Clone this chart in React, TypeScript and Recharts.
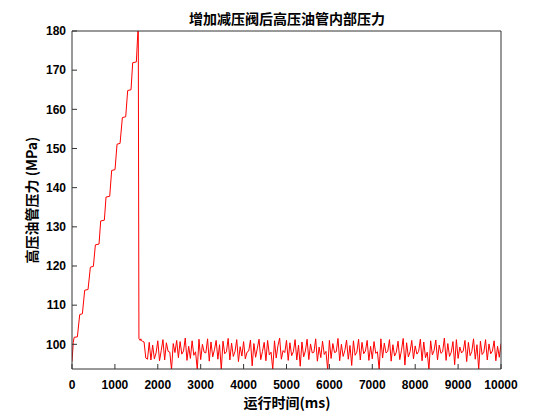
import React from "react";
import { LineChart, Line, XAxis, YAxis } from "recharts";

const chartTitle = "增加减压阀后高压油管内部压力";
const xLabel = "运行时间(ms)";
const yLabel = "高压油管压力 (MPa)";

const xTicks = [0, 1000, 2000, 3000, 4000, 5000, 6000, 7000, 8000, 9000, 10000];
const yTicks = [100, 110, 120, 130, 140, 150, 160, 170, 180];

// Ramp-up phase (time in ms, pressure in MPa)
const rampTime = [0, 30, 50, 125, 180, 242, 296, 374, 428, 498, 545, 630, 669, 754, 793, 879, 925, 1003, 1050, 1120, 1174, 1252, 1298, 1376, 1415, 1500, 1545, 1560, 1590, 1605, 1620];
const rampPressure = [95.6, 100.5, 101.8, 101.9, 107.6, 107.8, 113.8, 114.0, 119.7, 119.9, 125.4, 125.6, 131.5, 131.7, 137.6, 137.8, 144.4, 144.6, 151.1, 151.3, 157.9, 158.1, 164.8, 165.0, 171.9, 172.1, 182, 101.5, 101.0, 101.4, 100.9];

// Steady phase after the valve opens, sampled every 40 ms from 1640 ms
const steadyStart = 1640;
const steadyStep = 40;
const steadyPressure = [
  100.8, 100.6, 96.5, 96.2, 100.5, 96.0, 99.8, 96.3, 97.8, 100.9,
  95.8, 98.4, 101.2, 96.0, 100.4, 98.2, 98.0, 93.5, 100.2, 97.9,
  101.0, 96.6, 100.7, 97.5, 98.3, 101.6, 95.9, 99.5, 96.4, 100.9,
  97.2, 98.1, 93.6, 101.3, 96.1, 100.0, 98.0, 97.8, 101.4, 95.7,
  100.6, 96.8, 98.6, 101.0, 96.2, 99.9, 93.5, 100.8, 97.6, 98.1,
  101.5, 96.0, 100.3, 96.9, 98.2, 101.2, 95.6, 99.4, 97.0, 100.7,
  96.3, 98.0, 98.3, 101.1, 94.5, 100.2, 96.7, 99.0, 101.3, 96.1,
  98.2, 100.5, 95.8, 101.0, 97.3, 98.0, 93.6, 100.9, 96.5, 99.6,
  101.6, 96.2, 98.4, 97.9, 101.0, 95.9, 100.4, 97.1, 98.1, 101.2,
  96.0, 99.8, 94.4, 100.6, 96.8, 98.3, 101.3, 96.1, 100.1, 97.8,
  98.0, 101.4, 95.7, 99.3, 96.6, 100.8, 97.4, 98.2, 93.5, 101.0,
  96.4, 100.2, 97.9, 98.1, 101.5, 95.8, 100.0, 96.9, 98.4, 101.1,
  96.2, 99.7, 94.6, 100.9, 97.2, 98.0, 101.3, 96.0, 100.5, 97.6,
  98.3, 101.0, 95.9, 99.5, 96.3, 100.7, 97.7, 98.1, 93.6, 101.4,
  96.5, 100.3, 97.8, 98.2, 101.2, 95.7, 99.9, 97.0, 98.0, 100.8,
  96.1, 98.5, 101.5, 94.7, 100.4, 96.8, 98.1, 101.0, 96.3, 99.6,
  97.5, 98.2, 101.3, 95.8, 100.6, 96.6, 98.0, 93.5, 100.9, 97.3,
  98.4, 101.1, 96.0, 99.8, 97.7, 98.1, 101.6, 95.9, 100.2, 96.9,
  98.0, 100.7, 94.8, 101.2, 96.4, 99.3, 97.8, 98.3, 101.0, 95.6,
  100.5, 97.1, 98.2, 101.4, 96.2, 99.9, 93.6, 100.8, 97.4, 98.0,
  101.2, 96.0, 100.1, 97.6, 98.3, 100.9, 95.8, 99.5, 96.7, 100.2,
];

const data = [
  ...rampTime.map((t, i) => ({ t, p: rampPressure[i] })),
  ...steadyPressure.map((p, i) => ({ t: steadyStart + i * steadyStep, p })),
];

const axisColor = "#333333";
const tickFont = {
  fill: "#000",
  fontSize: 12,
  fontWeight: "bold" as const,
  fontFamily: "'Liberation Sans', Arial, sans-serif",
};
const labelFont: React.CSSProperties = {
  position: "absolute",
  fontFamily: "'Noto Sans CJK SC', 'Liberation Sans', sans-serif",
  fontWeight: "bold",
  color: "#000",
  whiteSpace: "nowrap",
  lineHeight: 1,
};

export default function App() {
  const W = 546;
  const H = 400;
  return (
    <div style={{ position: "relative", width: W, height: 408 }}>
      <LineChart
        width={W}
        height={H}
        data={data}
        margin={{ top: 22, right: 52, left: 0, bottom: 0 }}
      >
        <XAxis
          dataKey="t"
          type="number"
          domain={[0, 10000]}
          ticks={xTicks}
          interval={0}
          allowDataOverflow
          height={39}
          tickSize={-5}
          tickMargin={16}
          tick={tickFont}
          axisLine={{ stroke: axisColor }}
          tickLine={{ stroke: axisColor }}
        />
        <XAxis
          xAxisId="top"
          orientation="top"
          type="number"
          domain={[0, 10000]}
          ticks={xTicks}
          interval={0}
          allowDataOverflow
          height={1}
          tickSize={-5}
          tick={false}
          axisLine={{ stroke: axisColor }}
          tickLine={{ stroke: axisColor }}
        />
        <YAxis
          type="number"
          domain={[93.7, 180]}
          ticks={yTicks}
          interval={0}
          allowDataOverflow
          width={64}
          tickSize={-5}
          tickMargin={11}
          tick={tickFont}
          axisLine={{ stroke: axisColor }}
          tickLine={{ stroke: axisColor }}
        />
        <YAxis
          yAxisId="right"
          orientation="right"
          type="number"
          domain={[93.7, 180]}
          ticks={yTicks}
          interval={0}
          allowDataOverflow
          width={1}
          tickSize={-5}
          tick={false}
          axisLine={{ stroke: axisColor }}
          tickLine={{ stroke: axisColor }}
        />
        <Line
          dataKey="p"
          type="linear"
          stroke="#ff0000"
          strokeWidth={1}
          dot={false}
          activeDot={false}
          isAnimationActive={false}
        />
      </LineChart>
      <div
        style={{
          ...labelFont,
          fontSize: 14,
          left: 279,
          top: 10,
          transform: "translate(-50%, -50%)",
        }}
      >
        {chartTitle}
      </div>
      <div
        style={{
          ...labelFont,
          fontSize: 14,
          left: 279,
          top: 394,
          transform: "translate(-50%, -50%)",
        }}
      >
        {xLabel}
      </div>
      <div
        style={{
          ...labelFont,
          fontSize: 14,
          left: 23,
          top: 192,
          transform: "translate(-50%, -50%) rotate(-90deg)",
        }}
      >
        {yLabel}
      </div>
    </div>
  );
}
